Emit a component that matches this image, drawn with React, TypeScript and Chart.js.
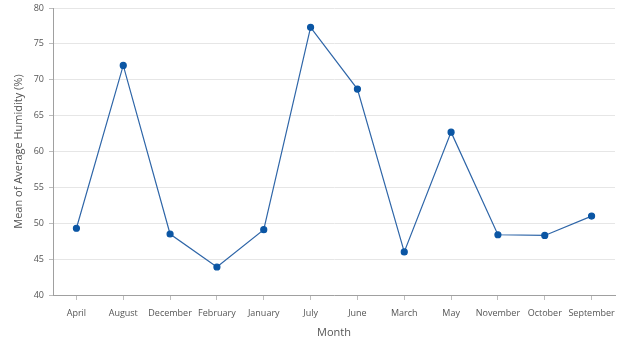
import React, { useEffect, useRef } from "react";
import { Chart, registerables } from "chart.js";

Chart.register(...registerables);

const months = ["April", "August", "December", "February", "January", "July", "June", "March", "May", "November", "October", "September"];
const humidity = [49.3, 72.0, 48.5, 43.9, 49.1, 77.3, 68.7, 46.0, 62.7, 48.4, 48.3, 51.0];
const yMin = 40;
const yMax = 80;
const yStep = 5;

export default function App() {
  const ref = useRef<HTMLCanvasElement | null>(null);
  useEffect(() => {
    document.body.style.margin = "0";
    const ctx = ref.current!;
    const font = "'Open Sans', 'Noto Sans', sans-serif";
    const chart = new Chart(ctx, {
      type: "line",
      data: {
        labels: months,
        datasets: [
          {
            data: humidity,
            borderColor: "#2f66a8",
            backgroundColor: "#0b56a4",
            pointBackgroundColor: "#0b56a4",
            pointBorderColor: "#0b56a4",
            borderWidth: 1.2,
            pointRadius: 3,
            tension: 0,
          },
        ],
      },
      options: {
        animation: false,
        responsive: false,
        maintainAspectRatio: false,
        layout: { padding: { left: 12, right: 9, top: 8, bottom: 12 } },
        plugins: { legend: { display: false }, tooltip: { enabled: false } },
        scales: {
          x: {
            type: "category",
            offset: true,
            grid: { drawOnChartArea: false, drawTicks: true, tickLength: 5, tickColor: "#bdbdbd" },
            border: { color: "#a0a0a0" },
            ticks: { color: "#555", font: { family: font, size: 9 }, padding: 8, maxRotation: 0, autoSkip: false },
            title: { display: true, text: "Month", color: "#555", font: { family: font, size: 11 }, padding: 0 },
            afterFit: (s: any) => { s.height = 44; },
          },
          y: {
            min: yMin,
            max: yMax,
            grid: { color: "#e6e6e6", tickLength: 4, tickColor: "#bdbdbd" },
            border: { color: "#a0a0a0" },
            ticks: { stepSize: yStep, color: "#555", font: { family: font, size: 9, lineHeight: 0.8 }, padding: 5 },
            title: { display: true, text: "Mean of Average Humidity (%)", color: "#555", font: { family: font, size: 11 }, padding: 0 },
            afterFit: (s: any) => { s.width = 41; s.paddingTop = 0; },
          },
        },
      },
    });
    return () => chart.destroy();
  }, []);
  return (
    <div style={{ position: "relative", width: 624, height: 351 }}>
      <canvas ref={ref} width={624} height={351} style={{ width: 624, height: 351 }} />
    </div>
  );
}
